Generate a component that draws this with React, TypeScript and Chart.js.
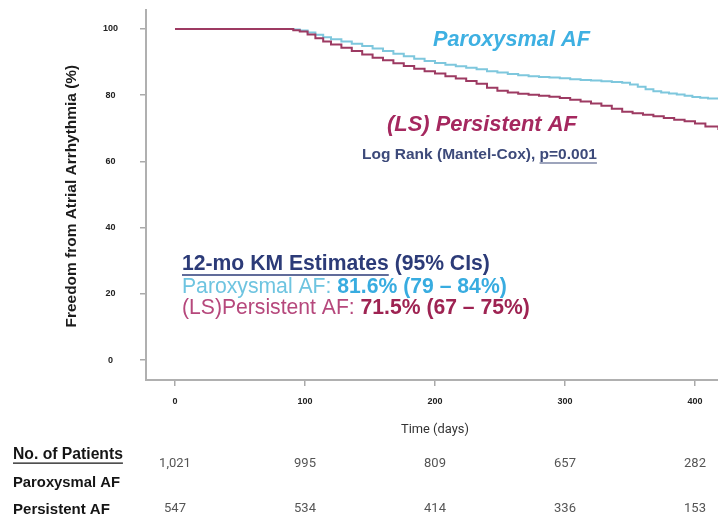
import React, { useEffect, useRef } from "react";
import { Chart, registerables } from "chart.js";

Chart.register(...registerables);

// ---- Data ----
const paroxDays = [0, 88, 91, 96, 102, 108, 114, 120, 128, 136, 144, 152, 160, 168, 176, 184, 192, 200, 208, 216, 224, 232, 240, 248, 256, 264, 272, 280, 288, 296, 304, 312, 320, 328, 336, 344, 350, 356, 362, 368, 374, 380, 386, 392, 398, 404, 410, 418];
const paroxSurv = [100, 100, 99.8, 99.5, 98.9, 98.2, 97.5, 96.9, 96.2, 95.5, 94.8, 94.1, 93.3, 92.5, 91.7, 91.0, 90.3, 89.7, 89.2, 88.7, 88.3, 87.8, 87.2, 86.8, 86.4, 86.0, 85.7, 85.5, 85.3, 85.1, 84.8, 84.6, 84.4, 84.2, 84.0, 83.7, 83.2, 82.5, 81.8, 81.2, 80.8, 80.5, 80.2, 79.8, 79.4, 79.2, 79.0, 78.9];

const persDays = [0, 88, 91, 96, 102, 108, 114, 120, 128, 136, 144, 152, 160, 168, 176, 184, 192, 200, 208, 216, 224, 232, 240, 248, 256, 264, 272, 280, 288, 296, 304, 312, 320, 328, 336, 344, 352, 360, 368, 376, 384, 392, 400, 408, 418];
const persSurv = [100, 100, 99.6, 99.2, 98.3, 97.2, 96.2, 95.3, 94.3, 93.3, 92.3, 91.3, 90.5, 89.6, 88.8, 88.0, 87.2, 86.5, 85.7, 85.0, 84.3, 83.4, 82.2, 81.3, 80.8, 80.4, 80.1, 79.8, 79.5, 79.1, 78.6, 78.1, 77.5, 76.8, 75.9, 75.0, 74.5, 74.1, 73.6, 73.1, 72.6, 72.1, 71.4, 70.5, 69.5];

const atRiskDays = [0, 100, 200, 300, 400];
const paroxAtRisk = ["1,021", "995", "809", "657", "282"];
const persAtRisk = ["547", "534", "414", "336", "153"];

const yTitle = "Freedom from Atrial Arrhythmia (%)";
const xTitle = "Time (days)";

const SANS = '"Liberation Sans", Arial, sans-serif';
const NARROW = 'Roboto, "Liberation Sans", sans-serif';

type Run = { text: string; bold?: boolean; italic?: boolean; color: string; underline?: boolean };

function fontOf(r: Run, size: number, family: string) {
  return `${r.italic ? "italic " : ""}${r.bold ? "bold " : ""}${size}px ${family}`;
}

function runsWidth(ctx: CanvasRenderingContext2D, runs: Run[], size: number, family: string) {
  let w = 0;
  for (const r of runs) {
    ctx.font = fontOf(r, size, family);
    w += ctx.measureText(r.text).width;
  }
  return w;
}

// draws runs fitted to a target width, starting at x (left), vertically centred at y
function drawRuns(ctx: CanvasRenderingContext2D, runs: Run[], x: number, y: number, width: number, family: string, align: "left" | "center" = "left") {
  const base = 20;
  const size = (base * width) / runsWidth(ctx, runs, base, family);
  let cx = align === "center" ? x - width / 2 : x;
  ctx.textBaseline = "middle";
  ctx.textAlign = "left";
  for (const r of runs) {
    ctx.font = fontOf(r, size, family);
    ctx.fillStyle = r.color;
    ctx.fillText(r.text, cx, y);
    const w = ctx.measureText(r.text).width;
    if (r.underline) {
      ctx.strokeStyle = r.color;
      ctx.lineWidth = Math.max(1, size / 14);
      ctx.beginPath();
      ctx.moveTo(cx, y + size * 0.52);
      ctx.lineTo(cx + w, y + size * 0.52);
      ctx.stroke();
    }
    cx += w;
  }
}

const textPlugin = {
  id: "kmText",
  afterDraw(chart: any) {
    const ctx: CanvasRenderingContext2D = chart.ctx;
    const xs = chart.scales.x;
    ctx.save();

    // y-axis title
    ctx.save();
    ctx.translate(72, 196);
    ctx.rotate(-Math.PI / 2);
    drawRuns(ctx, [{ text: yTitle, bold: true, color: "#1c1c1c" }], 0, 0, 263, SANS, "center");
    ctx.restore();

    // x-axis title
    drawRuns(ctx, [{ text: xTitle, color: "#333333" }], xs.getPixelForValue(200), 430, 68, NARROW, "center");

    // curve labels
    drawRuns(ctx, [{ text: "Paroxysmal AF", bold: true, italic: true, color: "#3eb0e2" }], 433, 40, 157, SANS);
    drawRuns(ctx, [{ text: "(LS) Persistent AF", bold: true, italic: true, color: "#a5285f" }], 387, 125, 190, SANS);
    drawRuns(
      ctx,
      [
        { text: "Log Rank (Mantel-Cox), ", bold: true, color: "#3d4a7a" },
        { text: "p=0.001", bold: true, color: "#3d4a7a", underline: true },
      ],
      362, 155, 235, SANS
    );

    // KM estimates block
    drawRuns(
      ctx,
      [
        { text: "12-mo KM Estimates", bold: true, color: "#2c3b78", underline: true },
        { text: " (95% CIs)", bold: true, color: "#2c3b78" },
      ],
      182, 264, 308, SANS
    );
    drawRuns(
      ctx,
      [
        { text: "Paroxysmal AF: ", color: "#6ec4e0" },
        { text: "81.6% (79 \u2013 84%)", bold: true, color: "#38ace0" },
      ],
      182, 287, 325, SANS
    );
    drawRuns(
      ctx,
      [
        { text: "(LS)Persistent AF: ", color: "#b6487c" },
        { text: "71.5% (67 \u2013 75%)", bold: true, color: "#9e2352" },
      ],
      182, 308, 348, SANS
    );

    // number at risk table
    drawRuns(ctx, [{ text: "No. of Patients", bold: true, color: "#151515", underline: true }], 13, 455, 110, SANS);
    drawRuns(ctx, [{ text: "Paroxysmal AF", bold: true, color: "#151515" }], 13, 483, 107, SANS);
    drawRuns(ctx, [{ text: "Persistent AF", bold: true, color: "#151515" }], 13, 510, 97, SANS);

    ctx.font = `13px ${NARROW}`;
    ctx.fillStyle = "#555555";
    ctx.textAlign = "center";
    ctx.textBaseline = "middle";
    atRiskDays.forEach((d, i) => {
      const px = xs.getPixelForValue(d);
      ctx.fillText(paroxAtRisk[i], px, 464);
      ctx.fillText(persAtRisk[i], px, 509);
    });

    ctx.restore();
  },
};

export default function App() {
  const ref = useRef<HTMLCanvasElement | null>(null);

  useEffect(() => {
    if (!ref.current) return;
    const chart = new Chart(ref.current, {
      type: "line",
      data: {
        datasets: [
          {
            label: "(LS) Persistent AF",
            data: persDays.map((d, i) => ({ x: d, y: persSurv[i] })),
            borderColor: "#9d3a62",
            borderWidth: 2,
            pointRadius: 0,
            stepped: true,
            fill: false,
          },
          {
            label: "Paroxysmal AF",
            data: paroxDays.map((d, i) => ({ x: d, y: paroxSurv[i] })),
            borderColor: "#7ec7dd",
            borderWidth: 2,
            pointRadius: 0,
            stepped: true,
            fill: false,
          },
        ],
      },
      options: {
        animation: false,
        responsive: false,
        devicePixelRatio: 1,
        layout: { padding: { top: 10, left: 0, right: 0, bottom: 0 } },
        plugins: { legend: { display: false }, tooltip: { enabled: false }, title: { display: false } },
        scales: {
          x: {
            type: "linear",
            min: -22.3,
            max: 417.7,
            afterFit: (s: any) => {
              s.height = 138;
              s.paddingLeft = 0;
              s.paddingRight = 0;
            },
            ticks: {
              stepSize: 100,
              includeBounds: false,
              padding: 10,
              color: "#222",
              font: { family: SANS, size: 9, weight: "bold" },
            },
            grid: { drawOnChartArea: false, drawTicks: true, tickLength: 6, color: "#aaaaaa", lineWidth: 1.5 },
            border: { display: true, color: "#b0b0b0", width: 2 },
          },
          y: {
            type: "linear",
            min: -6,
            max: 105.7,
            afterFit: (s: any) => {
              s.width = 146;
              s.paddingTop = 0;
              s.paddingBottom = 0;
            },
            ticks: {
              stepSize: 20,
              includeBounds: false,
              padding: 22,
              crossAlign: "center",
              color: "#222",
              font: { family: SANS, size: 9, weight: "bold" },
            },
            grid: { drawOnChartArea: false, drawTicks: true, tickLength: 6, color: "#aaaaaa", lineWidth: 1.5 },
            border: { display: true, color: "#b0b0b0", width: 2 },
          },
        },
      },
      plugins: [textPlugin],
    });
    return () => chart.destroy();
  }, []);

  return (
    <div style={{ position: "fixed", left: 0, top: 0, width: 718, height: 518, background: "#ffffff" }}>
      <canvas ref={ref} width={718} height={518} />
    </div>
  );
}
